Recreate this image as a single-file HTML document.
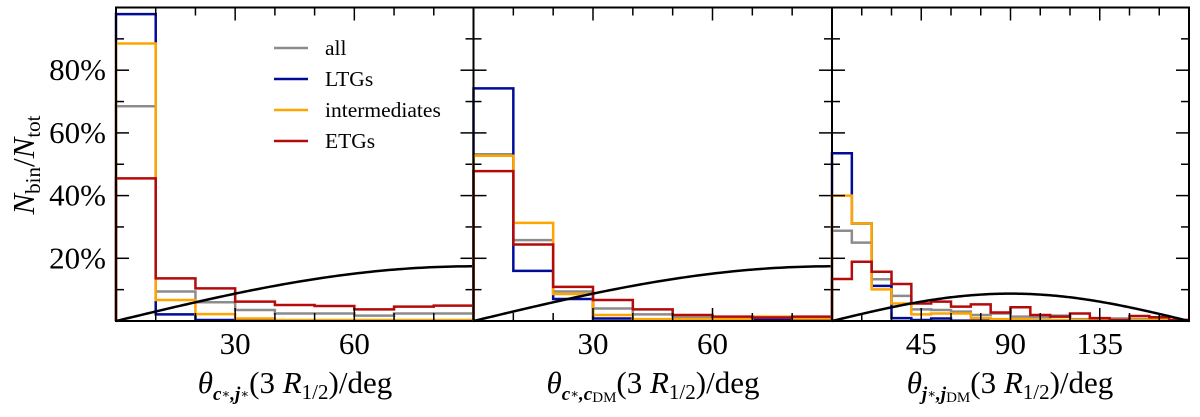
<!DOCTYPE html>
<html><head><meta charset="utf-8"><style>
body{margin:0;background:#fff}
svg text{font-family:"Liberation Serif","DejaVu Serif",serif;fill:#000}
</style></head><body>
<svg id="fig" width="1200" height="412" xmlns="http://www.w3.org/2000/svg"></svg>
<script>
// ---- data (percent per bin) ----
const panel1All=[68.5,9.4,6.0,3.5,2.4,2.4,1.7,2.4,2.4];
const panel1LTG=[97.9,2.1,0.3,0.1,0.1,0.1,0.1,0.1,0.1];
const panel1Int=[88.5,6.7,2.2,0.8,0.3,0.3,0.3,0.3,0.3];
const panel1ETG=[45.5,13.6,10.4,6.2,5.1,4.8,3.7,4.6,4.9];
const panel2All=[53.2,25.8,9.4,4.0,2.1,1.1,0.6,0.6,0.6];
const panel2LTG=[74.2,16.0,7.0,0.8,0.3,0.3,0.3,0.3,0.3];
const panel2Int=[52.7,31.3,8.6,1.9,0.6,0.6,0.6,1.4,0.8];
const panel2ETG=[47.8,24.4,10.9,6.7,3.7,1.9,1.4,1.1,1.4];
const panel3All=[28.8,25.0,13.3,8.0,3.7,3.5,3.0,1.9,2.4,1.4,1.2,1.7,0.6,0.6,0.8,0.6,0.6,0.3];
const panel3LTG=[53.5,31.1,11.2,0.9,0.3,0.8,0.1,0.1,0.1,0.1,0.1,0.1,0.1,0.1,0.1,0.1,0.1,0.1];
const panel3Int=[40.0,31.1,10.1,5.6,2.1,2.4,2.4,0.9,0.6,0.6,0.3,0.3,0.3,0.3,0.3,0.3,0.3,0.3];
const panel3ETG=[13.4,18.9,15.7,11.8,5.6,6.2,4.6,5.3,2.7,4.4,1.9,1.4,2.4,0.9,0.3,1.6,1.2,0.3];
const yTicks=[20,40,60,80];
const p1Ticks=[30,60];
const p3Ticks=[45,90,135];
const legendLabels=["all","LTGs","intermediates","ETGs"];
const colors=["#8c8c8c","#000c96","#ffa500","#b40a0a"];

const NS="http://www.w3.org/2000/svg";
const svg=document.getElementById('fig');
function mk(tag,attrs,parent){const e=document.createElementNS(NS,tag);for(const k in attrs)e.setAttribute(k,attrs[k]);(parent||svg).appendChild(e);return e;}
const Y0=321,Y1=7.5;
function yS(v){return Y0-(v/100)*(Y0-Y1);}
const panels=[
 {x0:116,x1:473.5,max:90,bw:10,series:[panel1All,panel1LTG,panel1Int,panel1ETG],minor:10,major:p1Ticks,amp:17.45},
 {x0:473.5,x1:832,max:90,bw:10,series:[panel2All,panel2LTG,panel2Int,panel2ETG],minor:10,major:p1Ticks,amp:17.45},
 {x0:832,x1:1189,max:180,bw:10,series:[panel3All,panel3LTG,panel3Int,panel3ETG],minor:15,major:p3Ticks,amp:8.73}
];
const names=['all','ltgs','intermediates','etgs'];
panels.forEach((p,pi)=>{
  const xS=v=>p.x0+(v/p.max)*(p.x1-p.x0);
  const g=mk('g',{});
  
  
  p.series.forEach((s,si)=>{
    let d='M'+xS(0)+','+Y0;
    s.forEach((v,i)=>{d+=' L'+xS(i*p.bw)+','+yS(v)+' L'+xS((i+1)*p.bw)+','+yS(v);});
    const path=mk('path',{d:d,fill:'none',stroke:colors[si],'stroke-width':2.5},g);
    
    
  });
  let d='';
  for(let t=0;t<=p.max;t+=1){d+=(t?' L':'M')+xS(t)+','+yS(p.amp*Math.sin(t*Math.PI/180));}
  const c=mk('path',{d:d,fill:'none',stroke:'#000','stroke-width':2.5},g);
  
  
  for(let t=p.minor;t<p.max;t+=p.minor){
    const L=p.major.includes(t)?13:8;
    mk('line',{x1:xS(t),x2:xS(t),y1:Y0,y2:Y0-L,stroke:'#000','stroke-width':1.5},g);
    mk('line',{x1:xS(t),x2:xS(t),y1:Y1,y2:Y1+L,stroke:'#000','stroke-width':1.5},g);
  }
  for(let v=10;v<100;v+=10){
    const L=(v%20===0)?13:8;
    mk('line',{x1:p.x0,x2:p.x0+L,y1:yS(v),y2:yS(v),stroke:'#000','stroke-width':1.5},g);
    mk('line',{x1:p.x1,x2:p.x1-L,y1:yS(v),y2:yS(v),stroke:'#000','stroke-width':1.5},g);
  }
  p.major.forEach(t=>{
    const tx=mk('text',{x:xS(t),y:354,'font-size':31,'text-anchor':'middle'},g);
    tx.textContent=t;
    
    
  });
  const fr=mk('rect',{x:p.x0,y:Y1,width:p.x1-p.x0,height:Y0-Y1,fill:'none',stroke:'#000','stroke-width':2},g);
  
  
});
yTicks.forEach(v=>{
  const t=mk('text',{x:106,y:yS(v)+10,'font-size':31,'text-anchor':'end'});
  t.textContent=v+'%';
  
  
});
legendLabels.forEach((l,i)=>{
  const y=48+i*31;
  const ln=mk('line',{x1:274,x2:308,y1:y,y2:y,stroke:colors[i],'stroke-width':2.5});
  
  
  const t=mk('text',{x:325,y:y+7,'font-size':21.5});
  t.textContent=l;
  
  
});
</script>
<svg style="position:absolute;left:0;top:0" width="1200" height="412">
<g font-family="Liberation Serif, serif">
<text transform="translate(34,165) rotate(-90)" text-anchor="middle" font-size="31"><tspan font-style="italic">N</tspan><tspan font-size="21" dy="6">bin</tspan><tspan dy="-6">/</tspan><tspan font-style="italic">N</tspan><tspan font-size="21" dy="6">tot</tspan></text>
<text x="295" y="393" text-anchor="middle" font-size="31"><tspan font-style="italic">θ</tspan><tspan font-size="19" dy="7" font-weight="bold" font-style="italic">c</tspan><tspan font-size="13" dy="-2">∗</tspan><tspan font-size="19" dy="2" font-weight="bold" font-style="italic">,j</tspan><tspan font-size="13" dy="-2">∗</tspan><tspan dy="-5">(3 </tspan><tspan font-style="italic">R</tspan><tspan font-size="21" dy="6">1/2</tspan><tspan dy="-6">)/deg</tspan></text>
<text x="653" y="393" text-anchor="middle" font-size="31"><tspan font-style="italic">θ</tspan><tspan font-size="19" dy="7" font-weight="bold" font-style="italic">c</tspan><tspan font-size="13" dy="-2">∗</tspan><tspan font-size="19" dy="2" font-weight="bold" font-style="italic">,c</tspan><tspan font-size="15" dy="2">DM</tspan><tspan dy="-9">(3 </tspan><tspan font-style="italic">R</tspan><tspan font-size="21" dy="6">1/2</tspan><tspan dy="-6">)/deg</tspan></text>
<text x="1010" y="393" text-anchor="middle" font-size="31"><tspan font-style="italic">θ</tspan><tspan font-size="19" dy="7" font-weight="bold" font-style="italic">j</tspan><tspan font-size="13" dy="-2">∗</tspan><tspan font-size="19" dy="2" font-weight="bold" font-style="italic">,j</tspan><tspan font-size="15" dy="2">DM</tspan><tspan dy="-9">(3 </tspan><tspan font-style="italic">R</tspan><tspan font-size="21" dy="6">1/2</tspan><tspan dy="-6">)/deg</tspan></text>
</g></svg>
</body></html>
